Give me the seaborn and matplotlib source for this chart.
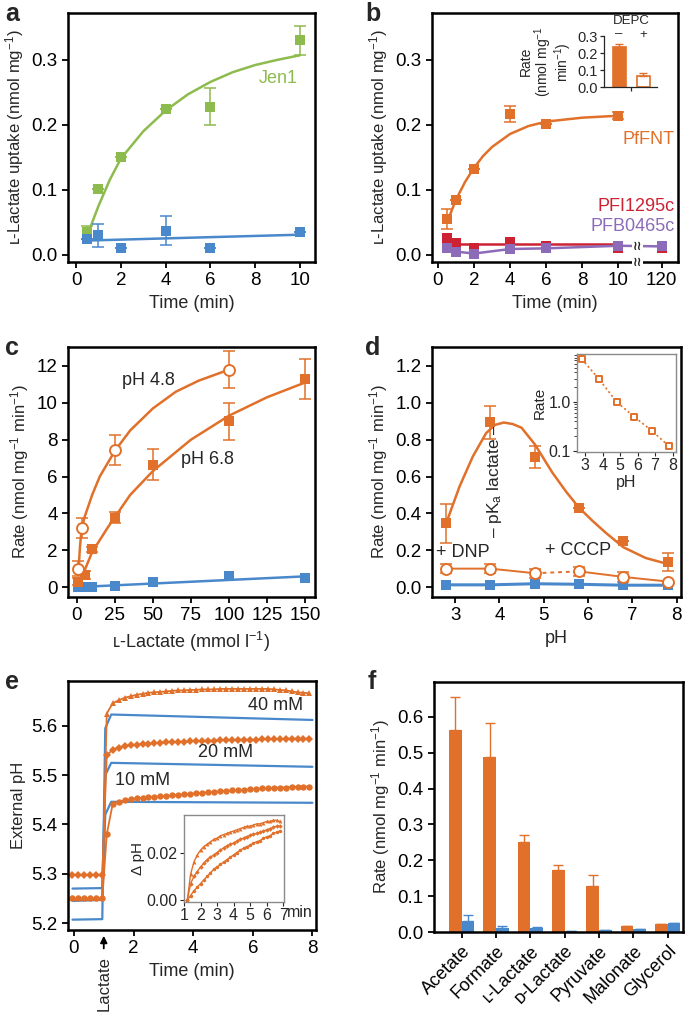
import numpy as np
import pandas as pd
import matplotlib
matplotlib.use("Agg")
import matplotlib.pyplot as plt
from matplotlib.ticker import FixedLocator, FixedFormatter, NullFormatter, LogLocator
import seaborn as sns

sns.set_style("ticks")
plt.rcParams['font.family'] = ['Liberation Sans', 'DejaVu Sans']
plt.rcParams['mathtext.fontset'] = 'custom'
plt.rcParams['mathtext.rm'] = 'Liberation Sans'
plt.rcParams['mathtext.it'] = 'Liberation Sans:italic'
plt.rcParams['mathtext.bf'] = 'Liberation Sans:bold'

ORANGE = '#E0702A'
BLUE = '#4A88CC'
GREEN = '#8EBB4E'
RED = '#CC2233'
PURPLE = '#8C6CB8'
TICK = 13.5
LAB = 13
YLAB = 12

# ---------------- data ----------------
# panel a
a_time = [0.5, 1, 2, 4, 6, 10]
a_jen1 = [0.035, 0.101, 0.150, 0.224, 0.228, 0.330]
a_jen1_err = [0.010, 0, 0, 0, 0.029, 0.022]
a_ctrl = [0.025, 0.030, 0.010, 0.037, 0.010, 0.035]
a_ctrl_err = [0, 0.018, 0, 0.022, 0, 0]
a_fit_t = [0.5, 1, 1.5, 2, 3, 4, 5, 6, 7, 8, 9, 10]
a_fit_jen1 = [0.030, 0.075, 0.115, 0.148, 0.190, 0.222, 0.247, 0.266, 0.281, 0.292, 0.300, 0.307]
a_fit_ctrl_t = [0.5, 10]
a_fit_ctrl = [0.022, 0.031]

# panel b
b_time = [0.5, 1, 2, 4, 6, 10]
b_pffnt = [0.055, 0.085, 0.132, 0.217, 0.201, 0.214]
b_pffnt_err = [0.016, 0, 0, 0.012, 0, 0.005]
b_fit_t = [0.5, 1, 1.5, 2, 2.5, 3, 4, 5, 6, 8, 10]
b_fit_pffnt = [0.050, 0.085, 0.112, 0.134, 0.152, 0.166, 0.186, 0.198, 0.205, 0.211, 0.214]
b_time_long = [0.5, 1, 2, 4, 6, 10, 120]
b_pfi = [0.026, 0.018, 0.010, 0.019, 0.013, 0.010, 0.011]
b_pfb = [0.010, 0.005, 0.002, 0.009, 0.010, 0.014, 0.013]
b_pfi_fit_t = [0.5, 10]
b_pfi_fit = [0.0165, 0.0165]
b_xticks = [0, 2, 4, 6, 8, 10, 120]
b_depc = ['–', '+']
b_depc_rate = [0.235, 0.065]
b_depc_err = [0.020, 0.020]

# panel c
c_conc_48 = [1, 3, 25, 100]
c_rate_48 = [1.0, 3.2, 7.45, 11.8]
c_err_48 = [0.4, 0.55, 0.8, 1.0]
c_conc_68 = [1, 5, 10, 25, 50, 100, 150]
c_rate_68 = [0.3, 0.65, 2.05, 3.75, 6.65, 9.0, 11.3]
c_err_68 = [0.2, 0.2, 0.15, 0.3, 0.85, 1.0, 1.1]
c_ctrl = [0.0, 0.0, 0.0, 0.05, 0.3, 0.6, 0.5]
c_fit48_x = [1, 2, 3, 5, 10, 15, 25, 35, 50, 65, 80, 100]
c_fit48_y = [0.9, 2.2, 3.1, 3.8, 5.0, 6.0, 7.4, 8.5, 9.7, 10.6, 11.2, 11.8]
c_fit68_x = [1, 5, 10, 20, 25, 35, 50, 75, 100, 125, 150]
c_fit68_y = [0.2, 0.9, 1.9, 3.2, 3.8, 5.0, 6.3, 8.0, 9.3, 10.3, 11.1]
c_fitctrl_x = [1, 150]
c_fitctrl_y = [0.0, 0.58]

# panel d
d_ph = [2.8, 3.8, 4.8, 5.8, 6.8, 7.8]
d_rate = [0.345, 0.895, 0.705, 0.43, 0.25, 0.135]
d_err = [0.105, 0.09, 0.06, 0, 0, 0.05]
d_fit_ph = [2.8, 3.1, 3.4, 3.7, 3.9, 4.1, 4.3, 4.5, 4.8, 5.2, 5.5, 5.8, 6.1, 6.4, 6.8, 7.3, 7.8]
d_fit = [0.346, 0.545, 0.708, 0.835, 0.88, 0.893, 0.885, 0.865, 0.775, 0.62, 0.52, 0.43, 0.36, 0.295, 0.216, 0.158, 0.125]
d_uncoupled = [0.10, 0.10, 0.075, 0.085, 0.055, 0.03]
d_uncoupled_err = [0.025, 0.025, 0.025, 0.025, 0.025, 0]
d_ctrl = [0.012, 0.012, 0.018, 0.015, 0.010, 0.010]
d_inset_rate = [7.5, 2.9, 1.0, 0.5, 0.26, 0.125]

# panel e
e_t = [-0.05, 0.15, 0.35, 0.55, 0.75, 0.95,
       1.1, 1.3, 1.5, 1.7, 1.9, 2.1, 2.3, 2.5, 2.7, 2.9, 3.1, 3.3, 3.5, 3.7, 3.9,
       4.1, 4.3, 4.5, 4.7, 4.9, 5.1, 5.3, 5.5, 5.7, 5.9, 6.1, 6.3, 6.5, 6.7, 6.9,
       7.1, 7.3, 7.5, 7.7, 7.9]
e_40 = [5.25, 5.25, 5.25, 5.25, 5.25, 5.25,
        5.625, 5.646, 5.652, 5.657, 5.660, 5.663, 5.665, 5.667, 5.668, 5.669, 5.670, 5.671, 5.672, 5.672, 5.673,
        5.673, 5.674, 5.674, 5.674, 5.675, 5.675, 5.675, 5.675, 5.675, 5.675, 5.675, 5.675, 5.675, 5.674, 5.673,
        5.672, 5.670, 5.668, 5.667, 5.666]
e_20 = [5.298, 5.298, 5.298, 5.298, 5.298, 5.298,
        5.540, 5.552, 5.556, 5.559, 5.561, 5.562, 5.563, 5.564, 5.565, 5.566, 5.567, 5.567, 5.568, 5.568, 5.569,
        5.569, 5.570, 5.570, 5.570, 5.571, 5.571, 5.571, 5.572, 5.572, 5.572, 5.572, 5.573, 5.573, 5.573, 5.573,
        5.574, 5.574, 5.574, 5.574, 5.574]
e_10 = [5.25, 5.25, 5.25, 5.25, 5.25, 5.25,
        5.380, 5.442, 5.446, 5.449, 5.451, 5.453, 5.454, 5.455, 5.456, 5.457, 5.458, 5.459, 5.460, 5.461, 5.462,
        5.463, 5.464, 5.465, 5.466, 5.467, 5.468, 5.469, 5.469, 5.470, 5.471, 5.472, 5.473, 5.473, 5.474, 5.475,
        5.475, 5.476, 5.476, 5.477, 5.477]
e_ctrl_t = [-0.05, 0.95, 1.05, 1.25, 8.0]
e_ctrl_40 = [5.207, 5.208, 5.595, 5.623, 5.612]
e_ctrl_20 = [5.270, 5.271, 5.500, 5.525, 5.517]
e_ctrl_10 = [5.245, 5.247, 5.420, 5.446, 5.444]
e_in_t = [1.2, 1.4, 1.6, 1.8, 2.0, 2.2, 2.4, 2.6, 2.8, 3.0, 3.2, 3.4, 3.6, 3.8, 4.0,
          4.2, 4.4, 4.6, 4.8, 5.0, 5.2, 5.4, 5.6, 5.8, 6.0, 6.2, 6.4, 6.6, 6.8]
e_in_a = [0.0, 0.011, 0.016, 0.019, 0.021, 0.0225, 0.0235, 0.0245, 0.0255, 0.026, 0.027, 0.0275, 0.028, 0.0285, 0.029,
          0.0295, 0.030, 0.0305, 0.031, 0.031, 0.0315, 0.032, 0.032, 0.0325, 0.033, 0.033, 0.0335, 0.0335, 0.033]
e_in_b = [0.0, 0.007, 0.010, 0.012, 0.014, 0.0155, 0.017, 0.018, 0.019, 0.020, 0.021, 0.022, 0.0228, 0.0235, 0.024,
          0.0248, 0.0255, 0.026, 0.0267, 0.0272, 0.0277, 0.028, 0.0285, 0.029, 0.0295, 0.030, 0.0305, 0.031, 0.031]
e_in_c = [0.0, 0.002, 0.004, 0.0055, 0.007, 0.0085, 0.010, 0.0115, 0.013, 0.014, 0.015, 0.016, 0.017, 0.018, 0.019,
          0.020, 0.021, 0.0218, 0.0225, 0.023, 0.024, 0.0245, 0.025, 0.026, 0.0265, 0.027, 0.028, 0.0285, 0.029]

# panel f
f_subs = ['Acetate', 'Formate', 'ʟ-Lactate', 'ᴅ-Lactate', 'Pyruvate', 'Malonate', 'Glycerol']
f_pffnt = [0.562, 0.487, 0.250, 0.174, 0.128, 0.016, 0.022]
f_pffnt_err = [0.093, 0.095, 0.020, 0.013, 0.030, 0.0, 0.0]
f_ctrl = [0.030, 0.010, 0.010, 0.002, 0.005, 0.007, 0.025]
f_ctrl_err = [0.017, 0.006, 0.005, 0.0, 0.0, 0.0, 0.0]

# ---------------- figure ----------------
W, H = 685, 1013
fig = plt.figure(figsize=(W / 100, H / 100), dpi=100)


def add_ax(x0, y0, x1, y1):
    return fig.add_axes([x0 / W, 1 - y1 / H, (x1 - x0) / W, (y1 - y0) / H])


def frame(ax):
    for s in ax.spines.values():
        s.set_visible(True)
        s.set_linewidth(1.8)
        s.set_color('black')
    ax.tick_params(direction='out', length=4.5, width=1.3, labelsize=TICK, pad=3, colors='black')


def letter(x, y, t):
    fig.text(x / W, 1 - y / H, t, fontsize=18, fontweight='bold', va='top', ha='left')


def line(ax, x, y, color, lw=1.8, **kw):
    sns.lineplot(x=x, y=y, ax=ax, color=color, lw=lw, estimator=None, sort=False, **kw)


def pts(ax, x, y, color, marker='s', s=62, face=None):
    sns.scatterplot(x=x, y=y, ax=ax, marker=marker, s=s, color=color if face is None else face,
                    edgecolor=color, linewidth=1.4 if face is not None else 0, zorder=4)


def ebar(ax, x, y, err, color):
    ax.errorbar(x, y, yerr=err, fmt='none', ecolor=color, elinewidth=1.1, capsize=4, capthick=1.1, zorder=3)


# ---------- a ----------
ax = add_ax(68, 13, 315, 262)
frame(ax)
line(ax, a_fit_t, a_fit_jen1, GREEN)
line(ax, a_fit_ctrl_t, a_fit_ctrl, BLUE)
ebar(ax, a_time, a_jen1, a_jen1_err, GREEN)
ebar(ax, a_time, a_ctrl, a_ctrl_err, BLUE)
pts(ax, a_time, a_jen1, GREEN)
pts(ax, a_time, a_ctrl, BLUE)
ax.set_xlim(-0.36, 10.67)
ax.set_ylim(-0.011, 0.372)
ax.set_xticks([0, 2, 4, 6, 8, 10])
ax.set_yticks([0.0, 0.1, 0.2, 0.3])
ax.set_yticklabels(['0.0', '0.1', '0.2', '0.3'])
ax.set_xlabel('Time (min)', fontsize=LAB)
ax.set_ylabel('ʟ-Lactate uptake (nmol mg$^{-1}$)', fontsize=YLAB)
ax.text(9.9, 0.272, 'Jen1', color=GREEN, fontsize=LAB, ha='right', va='center')
letter(5, 2, 'a')

# ---------- b ----------
BREAK_POS = 12.4


def bpos(t):
    return [v if v <= 10 else BREAK_POS for v in t]


ax = add_ax(432, 13, 678, 262)
frame(ax)
line(ax, b_fit_t, b_fit_pffnt, ORANGE)
line(ax, b_pfi_fit_t, b_pfi_fit, RED)
line(ax, bpos(b_time_long), b_pfb, PURPLE)
ebar(ax, b_time, b_pffnt, b_pffnt_err, ORANGE)
pts(ax, bpos(b_time_long), b_pfi, RED)
pts(ax, bpos(b_time_long), b_pfb, PURPLE)
pts(ax, b_time, b_pffnt, ORANGE)
ax.set_xlim(-0.33, 13.3)
ax.set_ylim(-0.011, 0.372)
ax.set_xticks(bpos(b_xticks))
ax.set_xticklabels([str(v) for v in b_xticks])
ax.set_yticks([0.0, 0.1, 0.2, 0.3])
ax.set_yticklabels(['0.0', '0.1', '0.2', '0.3'])
ax.set_xlabel('Time (min)', fontsize=LAB)
ax.set_ylabel('ʟ-Lactate uptake (nmol mg$^{-1}$)', fontsize=YLAB)
ax.text(13.1, 0.178, 'PfFNT', color=ORANGE, fontsize=LAB, ha='right', va='center')
ax.text(13.1, 0.074, 'PFI1295c', color=RED, fontsize=LAB, ha='right', va='center')
ax.text(13.1, 0.043, 'PFB0465c', color=PURPLE, fontsize=LAB, ha='right', va='center')
for yy in (0.0125, -0.011):
    ax.text(11.05, yy, '≀≀', fontsize=9, fontweight='bold', ha='center', va='center', family='DejaVu Sans',
            clip_on=False, zorder=6, bbox=dict(facecolor='white', edgecolor='none', pad=0.3))
letter(365, 2, 'b')

# inset b
axi = add_ax(604, 36, 657, 87.3)
dfb = pd.DataFrame({'DEPC': b_depc, 'Rate': b_depc_rate})
sns.barplot(data=dfb, x='DEPC', y='Rate', hue='DEPC', palette=[ORANGE, 'white'], legend=False,
            width=0.54, saturation=1, ax=axi, errorbar=None)
for p in axi.patches:
    p.set_edgecolor(ORANGE)
    p.set_linewidth(1.2)
axi.errorbar([0, 1], b_depc_rate, yerr=[[0, 0], b_depc_err], fmt='none', ecolor=ORANGE,
             elinewidth=1.0, capsize=3, capthick=1.0)
axi.set_xlim(-0.625, 1.58)
axi.set_ylim(0, 0.3)
sns.despine(ax=axi)
for s in ('left', 'bottom'):
    axi.spines[s].set_linewidth(0.9)
axi.set_yticks([0.0, 0.1, 0.2, 0.3])
axi.set_yticklabels(['0.0', '0.1', '0.2', '0.3'])
axi.set_xticks([0.5])
axi.set_xticklabels([''])
axi.tick_params(labelsize=10.5, length=3, width=0.9, pad=1.5)
axi.set_xlabel('')
axi.set_ylabel('Rate\n(nmol mg$^{-1}$\nmin$^{-1}$)', fontsize=10, linespacing=0.95, labelpad=2)
for i, lab in enumerate(b_depc):
    axi.text(i, 0.291, lab, ha='center', va='baseline', fontsize=9.5)
axi.text(0.5, 0.371, 'DEPC', ha='center', va='baseline', fontsize=9.5)

# ---------- c ----------
ax = add_ax(68, 347, 315, 597)
frame(ax)
line(ax, c_fit48_x, c_fit48_y, ORANGE)
line(ax, c_fit68_x, c_fit68_y, ORANGE)
line(ax, c_fitctrl_x, c_fitctrl_y, BLUE)
ebar(ax, c_conc_48, c_rate_48, c_err_48, ORANGE)
ebar(ax, c_conc_68, c_rate_68, c_err_68, ORANGE)
pts(ax, c_conc_68, c_ctrl, BLUE)
pts(ax, c_conc_68, c_rate_68, ORANGE)
pts(ax, c_conc_48, c_rate_48, ORANGE, marker='o', s=62, face='white')
ax.set_xlim(-5.9, 156.6)
ax.set_ylim(-0.54, 13.03)
ax.set_xticks([0, 25, 50, 75, 100, 125, 150])
ax.set_yticks([0, 2, 4, 6, 8, 10, 12])
ax.set_xlabel('ʟ-Lactate (mmol l$^{-1}$)', fontsize=LAB)
ax.set_ylabel('Rate (nmol mg$^{-1}$ min$^{-1}$)', fontsize=YLAB)
ax.text(47, 11.2, 'pH 4.8', fontsize=LAB, ha='center', va='center')
ax.text(86, 6.9, 'pH 6.8', fontsize=LAB, ha='center', va='center')
letter(5, 336, 'c')

# ---------- d ----------
ax = add_ax(432, 347, 681, 597)
frame(ax)
line(ax, d_fit_ph, d_fit, ORANGE)
line(ax, d_ph[:3], d_uncoupled[:3], ORANGE, lw=1.4)
line(ax, d_ph[2:4], d_uncoupled[2:4], ORANGE, lw=1.4, linestyle=(0, (2, 2)))
line(ax, d_ph[3:], d_uncoupled[3:], ORANGE, lw=1.4)
line(ax, d_ph, d_ctrl, BLUE, lw=2.2)
ebar(ax, d_ph, d_rate, d_err, ORANGE)
ebar(ax, d_ph, d_uncoupled, d_uncoupled_err, ORANGE)
pts(ax, d_ph, d_ctrl, BLUE)
pts(ax, d_ph, d_rate, ORANGE)
pts(ax, d_ph, d_uncoupled, ORANGE, marker='o', s=62, face='white')
ax.set_xlim(2.48, 8.1)
ax.set_ylim(-0.054, 1.303)
ax.set_xticks([3, 4, 5, 6, 7, 8])
ax.set_yticks([0.0, 0.2, 0.4, 0.6, 0.8, 1.0, 1.2])
ax.set_yticklabels(['0.0', '0.2', '0.4', '0.6', '0.8', '1.0', '1.2'])
ax.set_xlabel('pH', fontsize=LAB)
ax.set_ylabel('Rate (nmol mg$^{-1}$ min$^{-1}$)', fontsize=YLAB)
ax.text(3.18, 0.185, '+ DNP', fontsize=LAB, ha='center', va='center')
ax.text(5.77, 0.20, '+ CCCP', fontsize=LAB, ha='center', va='center')
ax.text(3.88, 0.58, '– pK$_\\mathregular{a}$ lactate –', fontsize=YLAB + 0.5, ha='center', va='center',
        rotation=90)
letter(365, 336, 'd')

# inset d
axd = add_ax(577, 354, 676, 452)
line(axd, d_ph, d_inset_rate, ORANGE, lw=1.2, linestyle=(0, (1.2, 1.6)))
pts(axd, d_ph, d_inset_rate, ORANGE, marker='s', s=16, face='white')
axd.set_yscale('log')
axd.set_xlim(2.53, 8.2)
axd.set_ylim(0.095, 9.5)
axd.yaxis.set_major_locator(FixedLocator([0.1, 1.0]))
axd.yaxis.set_major_formatter(FixedFormatter(['0.1', '1.0']))
axd.yaxis.set_minor_locator(LogLocator(base=10, subs=np.arange(2, 10)))
axd.yaxis.set_minor_formatter(NullFormatter())
axd.set_xticks([3, 4, 5, 6, 7, 8])
for s in axd.spines.values():
    s.set_visible(True)
    s.set_color('#8a8a8a')
    s.set_linewidth(1.0)
axd.tick_params(labelsize=11.5, length=3, width=0.8, pad=1.5)
axd.tick_params(which='minor', length=2, width=0.6)
axd.set_xlabel('pH', fontsize=11.5, labelpad=1)
axd.set_ylabel('Rate', fontsize=11, labelpad=1)

# ---------- e ----------
ax = add_ax(68, 681, 316, 930)
frame(ax)
line(ax, e_ctrl_t, e_ctrl_40, BLUE, lw=1.6)
line(ax, e_ctrl_t, e_ctrl_20, BLUE, lw=1.6)
line(ax, e_ctrl_t, e_ctrl_10, BLUE, lw=1.6)
line(ax, e_t, e_40, ORANGE, lw=1.3, marker='^', markersize=4.8, markeredgewidth=0)
line(ax, e_t, e_20, ORANGE, lw=1.3, marker='D', markersize=4.0, markeredgewidth=0)
line(ax, e_t, e_10, ORANGE, lw=1.3, marker='o', markersize=4.6, markeredgewidth=0)
ax.set_xlim(-0.2, 8.12)
ax.set_ylim(5.186, 5.691)
ax.set_xticks([0, 2, 4, 6, 8])
ax.set_yticks([5.2, 5.3, 5.4, 5.5, 5.6])
ax.set_yticklabels(['5.2', '5.3', '5.4', '5.5', '5.6'])
ax.set_xlabel('Time (min)', fontsize=LAB)
ax.set_ylabel('External pH', fontsize=YLAB)
ax.text(6.78, 5.642, '40 mM', fontsize=LAB, ha='center', va='center')
ax.text(5.07, 5.545, '20 mM', fontsize=LAB, ha='center', va='center')
ax.text(2.3, 5.49, '10 mM', fontsize=LAB, ha='center', va='center')
ax.annotate('', xy=(1.0, -0.012), xycoords=('data', 'axes fraction'), xytext=(1.0, -0.085),
            textcoords=('data', 'axes fraction'),
            arrowprops=dict(arrowstyle='-|>', color='black', lw=1.3, mutation_scale=10))
ax.text(1.0, -0.105, 'Lactate', transform=ax.get_xaxis_transform(), rotation=90, ha='center', va='top',
        fontsize=YLAB)
letter(5, 670, 'e')

# inset e
axe = add_ax(184, 815, 284, 902)
line(axe, e_in_t, e_in_a, ORANGE, lw=1.0, marker='^', markersize=2.8, markeredgewidth=0)
line(axe, e_in_t, e_in_b, ORANGE, lw=1.0, marker='D', markersize=2.3, markeredgewidth=0)
line(axe, e_in_t, e_in_c, ORANGE, lw=1.0, marker='o', markersize=2.5, markeredgewidth=0)
axe.set_xlim(1, 7.05)
axe.set_ylim(-0.0007, 0.0357)
axe.set_xticks([1, 2, 3, 4, 5, 6, 7])
axe.set_yticks([0.0, 0.02])
axe.set_yticklabels(['0.00', '0.02'])
for s in axe.spines.values():
    s.set_visible(True)
    s.set_color('#8a8a8a')
    s.set_linewidth(1.0)
axe.tick_params(labelsize=11.5, length=3, width=0.8, pad=1.5)
axe.set_ylabel('Δ pH', fontsize=11, labelpad=1)
axe.text(1.03, -0.04, 'min', transform=axe.transAxes, fontsize=11.5, ha='left', va='top')

# ---------- f ----------
ax = add_ax(434, 682, 683, 932)
frame(ax)
dff = pd.DataFrame({
    'substrate': f_subs * 2,
    'rate': f_pffnt + f_ctrl,
    'group': ['PfFNT'] * len(f_subs) + ['control'] * len(f_subs),
})
sns.barplot(data=dff, x='substrate', y='rate', hue='group', palette=[ORANGE, BLUE], width=0.74,
            saturation=1, errorbar=None, legend=False, ax=ax, linewidth=0)
bars = [p for p in ax.patches if p.get_width() > 0]
centers = [p.get_x() + p.get_width() / 2 for p in bars]
n = len(f_subs)
ax.errorbar(centers[:n], f_pffnt, yerr=[[0] * n, f_pffnt_err], fmt='none', ecolor=ORANGE,
            elinewidth=1.0, capsize=3.5, capthick=1.0)
ax.errorbar(centers[n:], f_ctrl, yerr=[[0] * n, f_ctrl_err], fmt='none', ecolor=BLUE,
            elinewidth=1.0, capsize=3.5, capthick=1.0)
ax.set_xlim(-0.81, 6.45)
ax.set_ylim(0, 0.697)
ax.set_yticks([0.0, 0.1, 0.2, 0.3, 0.4, 0.5, 0.6])
ax.set_yticklabels(['0.0', '0.1', '0.2', '0.3', '0.4', '0.5', '0.6'])
ax.set_xlabel('')
ax.set_ylabel('Rate (nmol mg$^{-1}$ min$^{-1}$)', fontsize=YLAB)
plt.setp(ax.get_xticklabels(), rotation=45, ha='right', rotation_mode='anchor', fontsize=LAB)
letter(368, 670, 'f')

fig.savefig('out.png', dpi=100)
